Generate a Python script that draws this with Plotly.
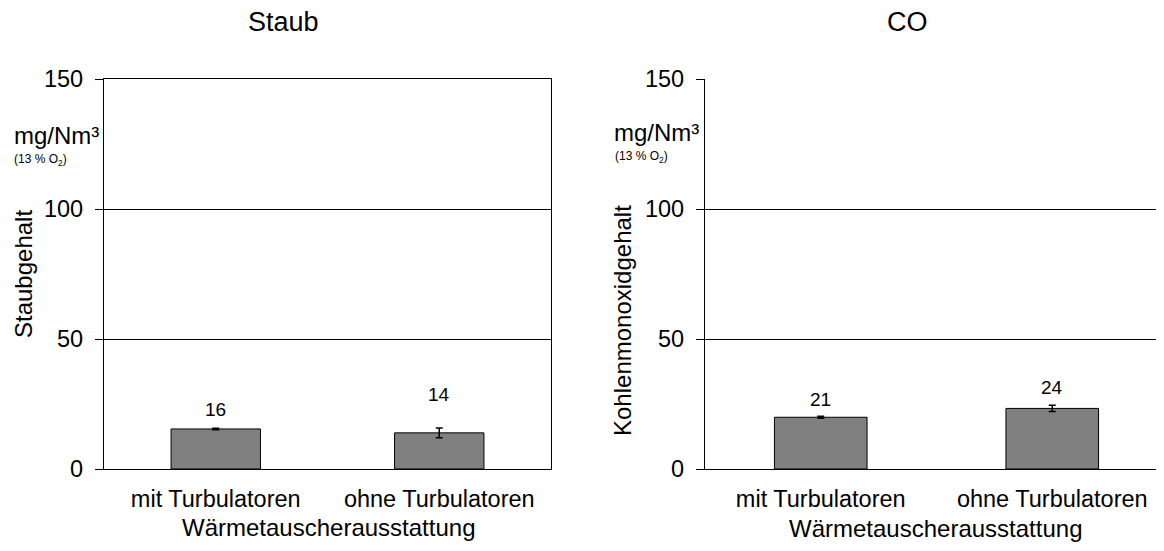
import plotly.graph_objects as go

# ---- data ----
categories = ["mit Turbulatoren", "ohne Turbulatoren"]
staub_values = [15.4, 13.9]
staub_errors = [0.3, 1.9]
staub_labels = ["16", "14"]
co_values = [19.9, 23.3]
co_errors = [0.4, 1.2]
co_labels = ["21", "24"]
y_ticks = [0, 50, 100, 150]

# ---- style ----
FONT = "Liberation Sans, Arial, sans-serif"
OFF = 8                      # default page margin of the html body
W, H = 1164 - OFF, 551 - OFF
T, B = 79 - OFF, 551 - 469
plot_h = H - T - B


def px_x(x):
    return (x - OFF) / W


def px_y(y):
    return (H - B - (y - OFF)) / plot_h


bar_style = dict(marker=dict(color="#808080", line=dict(color="black", width=1)),
                 width=0.4, showlegend=False, hoverinfo="skip")

fig = go.Figure()
fig.add_trace(go.Bar(x=categories, y=staub_values,
                     error_y=dict(type="data", array=staub_errors, color="black",
                                  thickness=1.5, width=3.5),
                     xaxis="x", yaxis="y", **bar_style))
fig.add_trace(go.Bar(x=categories, y=co_values,
                     error_y=dict(type="data", array=co_errors, color="black",
                                  thickness=1.5, width=3.5),
                     xaxis="x2", yaxis="y2", **bar_style))

yax = dict(range=[0, 150], tickvals=y_ticks, showgrid=True, gridcolor="black",
           gridwidth=1, showline=True, linecolor="black", linewidth=1.3,
           ticks="outside", ticklen=8, tickcolor="black", tickwidth=1,
           ticklabelstandoff=7,
           tickfont=dict(family=FONT, size=23.5, color="black"), zeroline=False)
xax = dict(showline=True, linecolor="black", linewidth=1.3, ticks="",
           ticklabelstandoff=9,
           tickfont=dict(family=FONT, size=23.5, color="black"), showgrid=False)

fig.update_layout(
    width=W, height=H,
    margin=dict(l=0, r=0, t=T, b=B),
    paper_bgcolor="white", plot_bgcolor="white",
    font=dict(family=FONT, color="black"),
    xaxis=dict(domain=[px_x(104), px_x(551)], range=[-0.5, 1.5], anchor="y",
               mirror=True, **xax),
    yaxis=dict(domain=[0, 1], anchor="x", mirror=True, **yax),
    xaxis2=dict(domain=[px_x(705), 1.0],
                range=[-0.5, -0.5 + (1164 - 705) / 231.5],
                anchor="y2", **xax),
    yaxis2=dict(domain=[0, 1], anchor="x2", **yax),
)

ann = []
# data labels
label_shift_staub = [19, 33]
label_shift_co = [17, 18]
for c, v, e, t, s in zip(categories, staub_values, staub_errors, staub_labels, label_shift_staub):
    ann.append(dict(x=c, y=v + e, xref="x", yref="y", text=t, showarrow=False,
                    yanchor="middle", yshift=s, font=dict(family=FONT, size=19)))
for c, v, e, t, s in zip(categories, co_values, co_errors, co_labels, label_shift_co):
    ann.append(dict(x=c, y=v + e, xref="x2", yref="y2", text=t, showarrow=False,
                    yanchor="middle", yshift=s, font=dict(family=FONT, size=19)))


def text(x, y, t, size, xanchor="center", angle=0):
    ann.append(dict(x=px_x(x), y=px_y(y), xref="paper", yref="paper", text=t,
                    showarrow=False, xanchor=xanchor, yanchor="middle",
                    textangle=angle, font=dict(family=FONT, size=size, color="black")))


text(283, 22, "Staub", 27)
text(907, 22, "CO", 27)
text(23, 274, "Staubgehalt", 24, angle=-90)
text(622, 321, "Kohlenmonoxidgehalt", 24, angle=-90)
text(12, 135, "mg/Nm³", 24, xanchor="left")
text(12, 160, "(13 % O<sub>2</sub>)", 12, xanchor="left")
text(612, 133, "mg/Nm³", 24, xanchor="left")
text(613, 157, "(13 % O<sub>2</sub>)", 12, xanchor="left")
text(328, 527, "Wärmetauscherausstattung", 24)
text(935, 528, "Wärmetauscherausstattung", 24)

fig.update_layout(annotations=ann)
fig.write_html("out.html")
